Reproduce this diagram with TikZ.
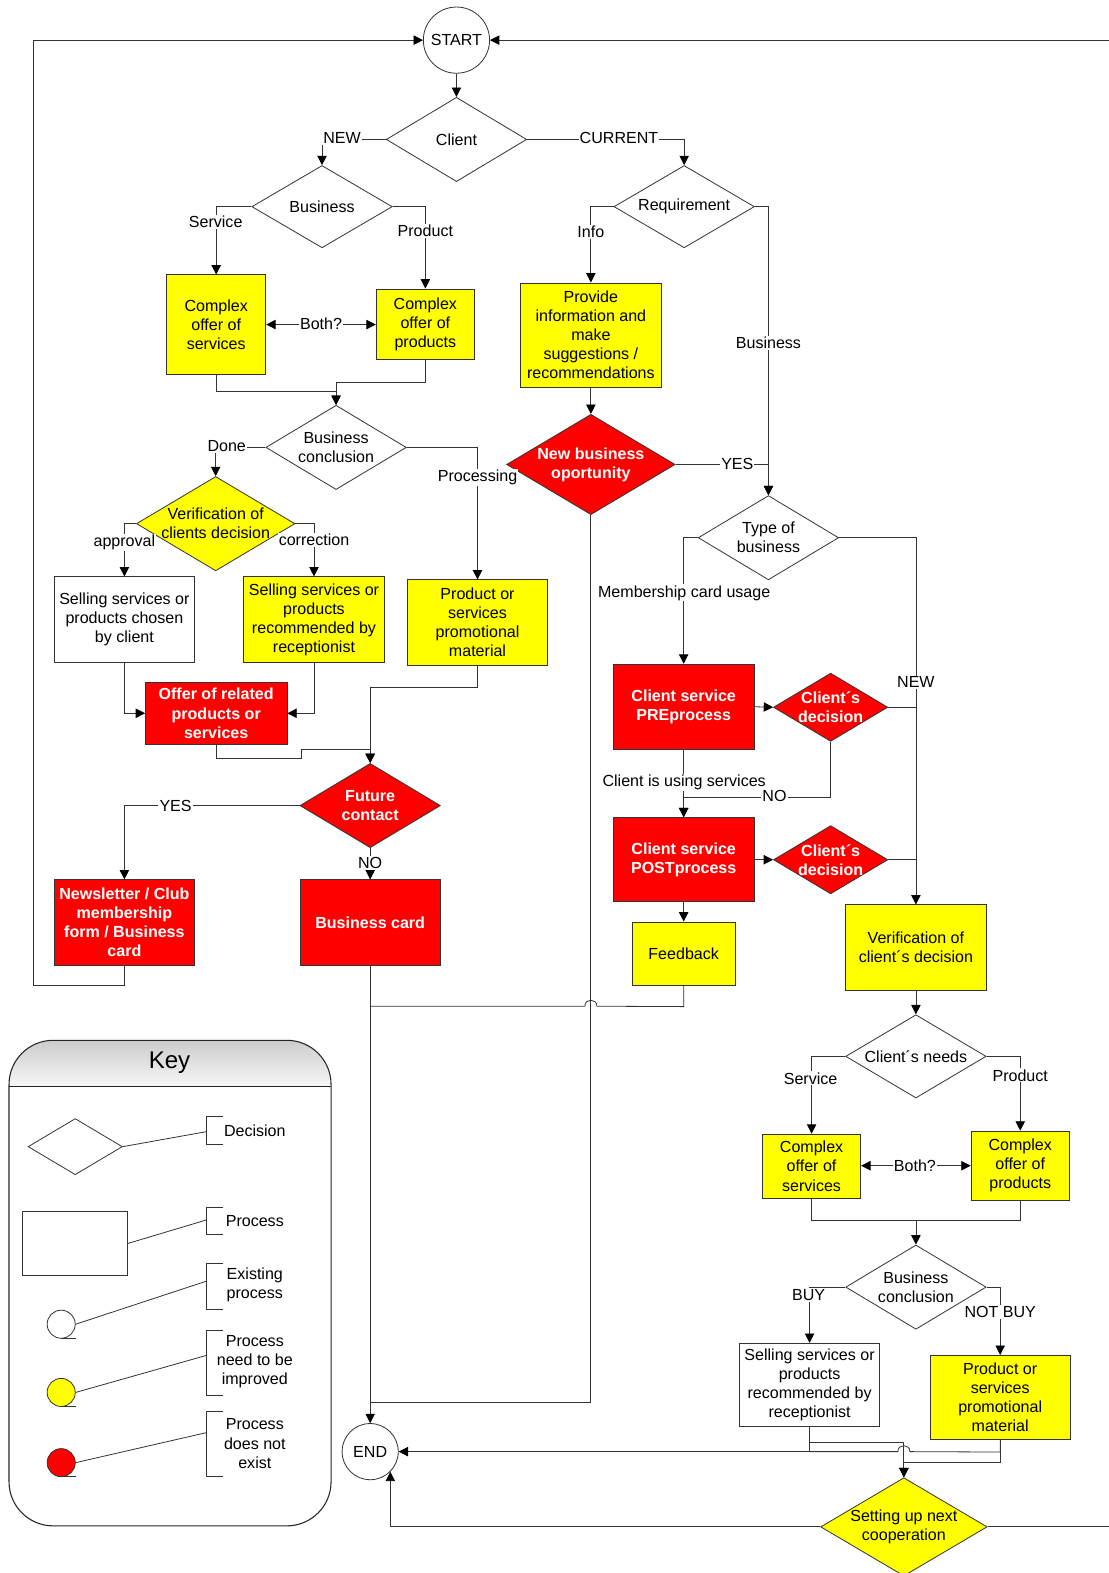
\documentclass[tikz,border=0pt]{standalone}
\usepackage{fontspec}
\setmainfont{Liberation Sans}
\usetikzlibrary{shapes.geometric,arrows.meta,calc}
\definecolor{cy}{RGB}{255,255,0}
\definecolor{cr}{RGB}{255,0,0}
\begin{document}
\begin{tikzpicture}[x=0.75pt,y=-0.75pt,
  font=\fontsize{12}{14.25}\selectfont,
  sz/.style 2 args={minimum width={#1*0.75pt},minimum height={#2*0.75pt}},
  wbox/.style={rectangle,draw=black!80,line width=0.6pt,fill=white,inner sep=0pt,align=center},
  ybox/.style={wbox,fill=cy},
  rbox/.style={wbox,fill=cr,text=white,font=\fontsize{12}{14.25}\selectfont\bfseries},
  dia/.style={diamond,draw=black!80,line width=0.6pt,fill=white,inner sep=0pt},
  ydia/.style={dia,fill=cy},
  rdia/.style={dia,fill=cr},
  wt/.style={align=center,text=white,font=\fontsize{12}{14.25}\selectfont\bfseries},
  circ/.style={circle,draw=black!80,line width=0.6pt,fill=white,inner sep=0pt},
  ln/.style={draw=black!80,line width=0.6pt},
  arr/.style={ln,-{Triangle[length=7pt,width=7pt,color=black]}},
  arr2/.style={ln,{Triangle[length=7pt,width=7pt,color=black]}-{Triangle[length=7pt,width=7pt,color=black]}},
  lbl/.style={fill=white,inner sep=0.8pt}]
\useasboundingbox (0,0) rectangle (1105,1568);

% ---------- nodes ----------
\node[circ,minimum size=49.5pt] (start) at (455,40) {START};
\node[circ,minimum size=42pt] (end) at (369,1447) {END};

\node[dia,sz={140}{84},label={center:Client}] (client) at (455,139) {};
\node[dia,sz={140}{82},label={center:Business}] (bus) at (321,206) {};
\node[dia,sz={140}{82},label={center:Requirement}] (req) at (682,206) {};
\node[dia,sz={140}{84},label={[align=center]center:{Business\\conclusion}}] (bc1) at (335,446) {};
\node[ydia,sz={158}{94},label={[align=center]center:{Verification of\\clients decision}}] (ver1) at (215,522) {};
\node[rdia,sz={168}{100},label={[wt]center:{New business\\oportunity}}] (nbo) at (589,463) {};
\node[dia,sz={140}{84},label={[align=center]center:{Type of\\business}}] (tob) at (766,536) {};
\node[rdia,sz={114}{68},label={[wt]center:{Client´s\\decision}}] (cd1) at (828,705) {};
\node[rdia,sz={114}{68},label={[wt]center:{Client´s\\decision}}] (cd2) at (828,857) {};
\node[rdia,sz={140}{84},label={[wt]center:{Future\\contact}}] (fut) at (369,803) {};
\node[dia,sz={140}{83},label={center:Client´s needs}] (cn) at (913,1053) {};
\node[dia,sz={140}{84},label={[align=center]center:{Business\\conclusion}}] (bc2) at (913,1283) {};
\node[ydia,sz={166}{98},label={[align=center]center:{Setting up next\\cooperation}}] (setup) at (901,1522) {};

\node[ybox,sz={99}{99}] (cs1) at (215.5,323.5) {Complex\\offer of\\services};
\node[ybox,sz={98}{70}] (cp1) at (424,323) {Complex\\offer of\\products};
\node[ybox,sz={140}{104}] (prov) at (589,334) {Provide\\information and\\make\\suggestions /\\recommendations};
\node[wbox,sz={140}{85}] (sel1) at (124,617.5) {Selling services or\\products chosen\\by client};
\node[ybox,sz={140}{85}] (selr1) at (313,617.5) {Selling services or\\products\\recommended by\\receptionist};
\node[ybox,sz={140}{85}] (promo1) at (476,620.5) {Product or\\services\\promotional\\material};
\node[rbox,sz={141}{62}] (offer) at (215.5,711) {Offer of related\\products or\\services};
\node[rbox,sz={140}{85}] (news) at (124,919.5) {Newsletter / Club\\membership\\form / Business\\card};
\node[rbox,sz={140}{85}] (bcard) at (369,919.5) {Business card};
\node[rbox,sz={141}{85}] (pre) at (681.5,704.5) {Client service\\PREprocess};
\node[rbox,sz={141}{84}] (post) at (681.5,857) {Client service\\POSTprocess};
\node[ybox,sz={103}{63}] (feed) at (681.5,950.5) {Feedback};
\node[ybox,sz={140}{85}] (verif2) at (913,944.5) {Verification of\\client´s decision};
\node[ybox,sz={98}{64}] (cs2) at (809,1162.5) {Complex\\offer of\\services};
\node[ybox,sz={98}{69}] (cp2) at (1017,1162) {Complex\\offer of\\products};
\node[wbox,sz={140}{83}] (selr2) at (807,1380.5) {Selling services or\\products\\recommended by\\receptionist};
\node[ybox,sz={140}{84}] (promo2) at (997,1393) {Product or\\services\\promotional\\material};

\coordinate (lt) at (33,40);
\coordinate (rt) at (1105,40);
\coordinate (rb) at (1105,1522);
\coordinate (j1) at (369,1003);
\coordinate (j2) at (369,1398);
\coordinate (j3) at (913,1216.5);

% ---------- connectors ----------
\draw[arr] (start.south) -- (client.north);
\draw[arr] (client.west) -| (bus.north);
\draw[arr] (client.east) -| (req.north);
\draw[arr] (bus.west) -| (cs1.north);
\draw[arr] (bus.east) -| (cp1.north);
\draw[arr2] (cs1.east) -- (cs1.east -| cp1.west);
\draw[arr] (cs1.south) -- ++(0,17) -| (bc1.north);
\draw[arr] (cp1.south) -- ++(0,23) -| (bc1.north);
\draw[arr] (bc1.west) -| (ver1.north);
\draw[arr] (bc1.east) -| (promo1.north);
\draw[arr] (ver1.west) -| (sel1.north);
\draw[arr] (ver1.east) -| (selr1.north);
\draw[arr] (sel1.south) |- (offer.west);
\draw[arr] (selr1.south) |- (offer.east);
\draw[arr] (offer.south) -- ++(0,14) -- ++(85,0) -- ++(0,-9) -| (fut.north);
\draw[arr] (promo1.south) -- ++(0,22) -| (fut.north);
\draw[arr] (fut.west) -| (news.north);
\draw[arr] (fut.south) -- (bcard.north);
\draw[arr] (news.south) -- ++(0,20) -| (lt) -- (start.west);
\draw[arr] (rt) -- (start.east);
\draw[arr] (bcard.south) -- (end.north);
\draw[ln] (feed.south) -- ++(0,21) -- (595,1003) .. controls (595,995) and (583,995) .. (583,1003) -- (j1);
\draw[ln] (nbo.south) |- (j2);

\draw[arr] (req.west) -| (prov.north);
\draw[arr] (req.east) -| (tob.north);
\draw[arr] (prov.south) -- (nbo.north);
\draw[arr] (nbo.east) -| (tob.north);
\draw[arr] (tob.west) -| (pre.north);
\draw[arr] (tob.east) -| (verif2.north);
\draw[arr] (pre.east) -- (cd1.west);
\draw[ln] (cd1.east) -- (cd1.east -| verif2.north);
\draw[arr] (cd1.south) -- ++(0,55) -| (post.north);
\draw[arr] (pre.south) -- (post.north);
\draw[arr] (post.east) -- (cd2.west);
\draw[ln] (cd2.east) -- (cd2.east -| verif2.north);
\draw[arr] (post.south) -- (feed.north);
\draw[arr] (verif2.south) -- (cn.north);
\draw[arr] (cn.west) -| (cs2.north);
\draw[arr] (cn.east) -| (cp2.north);
\draw[arr2] (cs2.east |- cp2.west) -- (cp2.west);
\draw[ln] (cs2.south) -- ++(0,22) -| (cp2.south);
\draw[arr] (j3) -- (bc2.north);
\draw[arr] (bc2.west) -| (selr2.north);
\draw[arr] (bc2.east) -| (promo2.north);
\draw[arr] (selr2.south) |- (end.east);
\draw[ln] (promo2.south) -- ++(0,12) -- (907,1447) .. controls (907,1439) and (895,1439) .. (895,1447) -- (selr2.south |- end.east);
\draw[arr] (selr2.south) -- ++(0,15) -| (setup.north);
\draw[arr] (promo2.south) -- ++(0,22) -| (setup.north);
\draw[arr] (setup.west) -| (end.-45);
\draw[ln] (setup.east) -- (rb);

% ---------- labels ----------
\node[lbl] (lNew) at (341,138) {NEW};
\node[lbl] (lCur) at (617,138) {CURRENT};
\node[lbl] (lSer1) at (215,221) {Service};
\node[lbl] (lPro1) at (424,230) {Product};
\node[lbl] (lBoth1) at (320,323) {Both?};
\node[lbl] (lDone) at (226,445) {Done};
\node[lbl] (lProc) at (476,476) {Processing};
\node[lbl] (lAppr) at (124,541) {approval};
\node[lbl] (lCorr) at (313,538) {correction};
\node[lbl] (lYes1) at (175,803) {YES};
\node[lbl] (lNo1) at (369,860) {NO};
\node[lbl] (lInfo) at (589,231) {Info};
\node[lbl] (lBus) at (766,342) {Business};
\node[lbl] (lYes2) at (735,462) {YES};
\node[lbl] (lMem) at (682,591) {Membership card usage};
\node[lbl] (lNew2) at (913,680) {NEW};
\node[lbl] (lUse) at (682,780) {Client is using services};
\node[lbl] (lNo2) at (772,793) {NO};
\node[lbl] (lSer2) at (808,1075) {Service};
\node[lbl] (lPro2) at (1017,1072) {Product};
\node[lbl] (lBoth2) at (912,1162) {Both?};
\node[lbl] (lBuy) at (806,1291) {BUY};
\node[lbl] (lNbuy) at (997,1308) {NOT BUY};

% ---------- key ----------
\begin{scope}
\clip[rounded corners=33pt] (9,1037) rectangle (330,1521);
\shade[top color=black!20,bottom color=black!3] (9,1037) rectangle (330,1083);
\end{scope}
\draw[black!85,line width=0.8pt,rounded corners=33pt] (9,1037) rectangle (330,1521);
\draw[black!85,line width=0.8pt] (9,1083) -- (330,1083);
\node (keyT) at (169,1059) {\fontsize{18}{20}\selectfont Key};

\node[dia,sz={94}{56}] (kd) at (75,1143) {};
\draw[ln] (kd.east) -- (206,1128);
\draw[ln] (222,1113) -- (206,1113) -- (206,1141) -- (222,1141);
\node (kdT) at (254,1127) {Decision};

\node[wbox,sz={105}{63}] (kr) at (74.5,1239.5) {};
\draw[ln] (kr.east) -- (206,1216);
\draw[ln] (222,1204) -- (206,1204) -- (206,1230) -- (222,1230);
\node (krT) at (254,1217) {Process};

\node[circ,minimum size=21pt] (kw) at (61,1320) {};
\draw[ln] (61,1334) -- (76,1334);
\draw[ln] (kw.east) -- (206,1277);
\draw[ln] (222,1259) -- (206,1259) -- (206,1305) -- (222,1305);
\node[align=center] (kwT) at (254,1281) {Existing\\process};

\node[circ,fill=cy,minimum size=21pt] (ky) at (61,1388) {};
\draw[ln] (61,1402) -- (76,1402);
\draw[ln] (ky.east) -- (206,1351);
\draw[ln] (222,1326) -- (206,1326) -- (206,1391) -- (222,1391);
\node[align=center] (kyT) at (254,1357) {Process\\need to be\\improved};

\node[circ,fill=cr,minimum size=21pt] (kx) at (61,1458) {};
\draw[ln] (61,1472) -- (76,1472);
\draw[ln] (kx.east) -- (206,1428);
\draw[ln] (222,1407) -- (206,1407) -- (206,1472) -- (222,1472);
\node[align=center] (kxT) at (254,1439) {Process\\does not\\exist};
\end{tikzpicture}
\end{document}
